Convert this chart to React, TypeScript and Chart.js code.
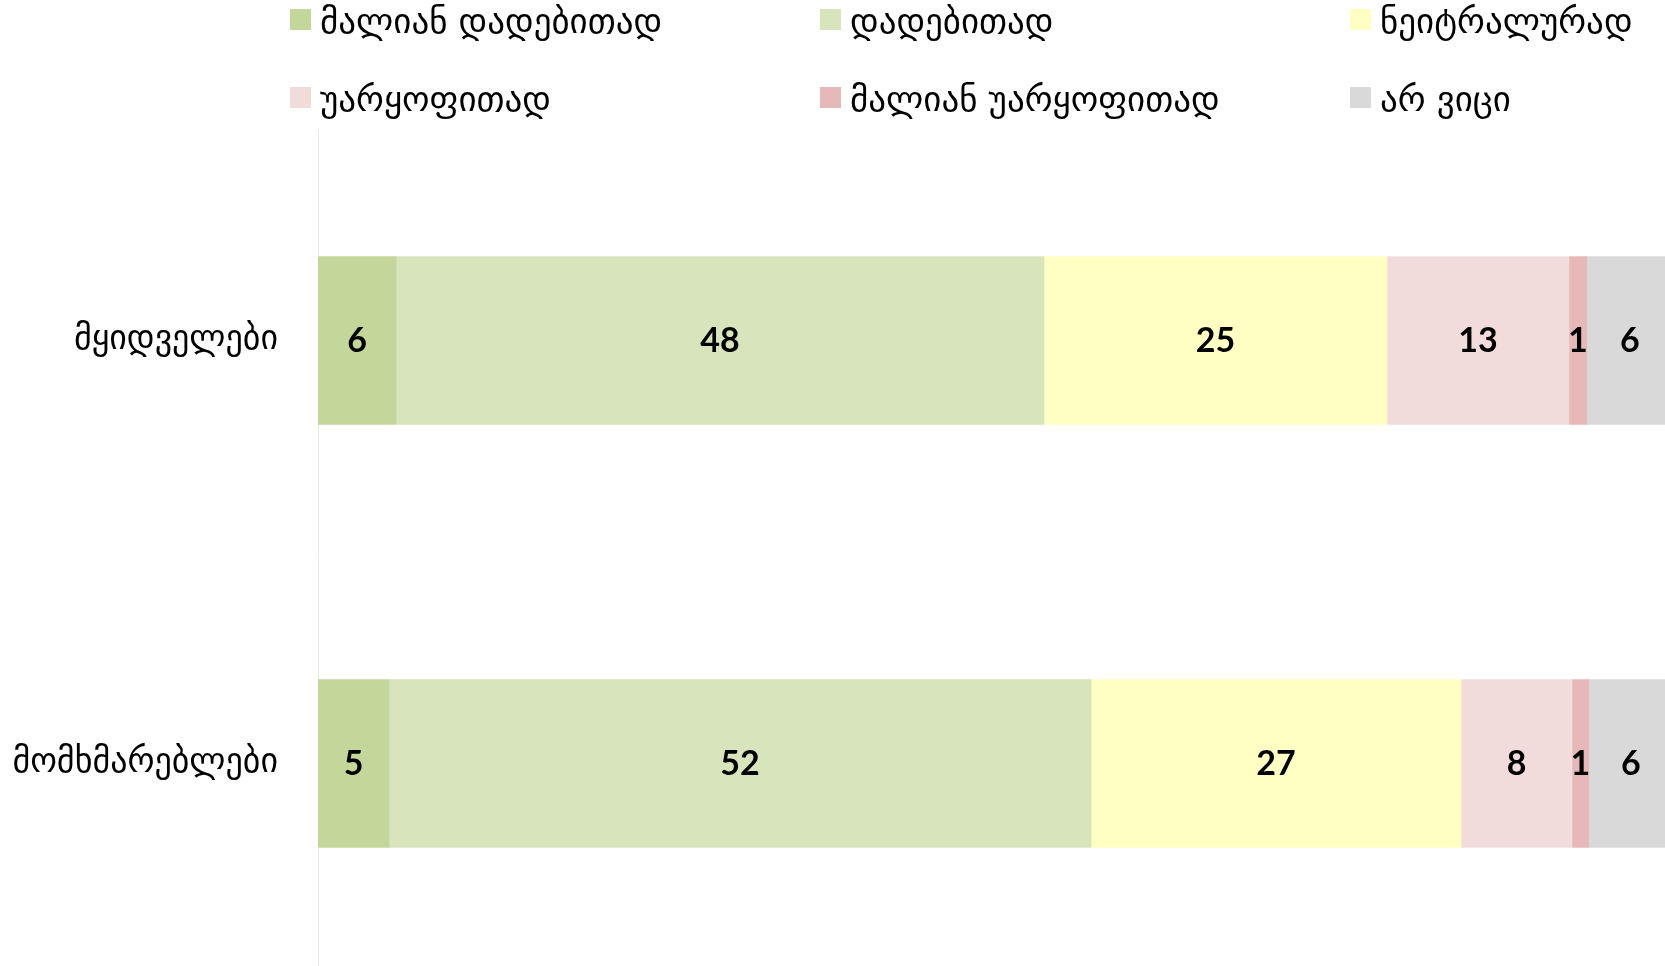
import React, { useEffect, useRef } from "react";
import { Chart, registerables } from "chart.js";

Chart.register(...registerables);

const categories = ["მყიდველები", "მომხმარებლები"];
const seriesNames = [
  "მალიან დადებითად",
  "დადებითად",
  "ნეიტრალურად",
  "უარყოფითად",
  "მალიან უარყოფითად",
  "არ ვიცი",
];
const veryPositive = [5.76, 5.24];
const positive = [47.82, 51.81];
const neutral = [25.31, 27.31];
const negative = [13.43, 8.19];
const veryNegative = [1.31, 1.23];
const dontKnow = [6.37, 6.22];
const seriesColors = ["#c4d79b", "#d8e4bc", "#ffffc4", "#f2dcdb", "#e6b9b8", "#d9d9d9"];

const GEO_FONT = "'DejaVu Sans', 'Noto Sans', sans-serif";

const labelPlugin = {
  id: "segLabels",
  afterDatasetsDraw(chart: any) {
    const ctx = chart.ctx;
    ctx.save();
    ctx.font = "bold 34px Lato, 'Open Sans', sans-serif";
    ctx.fillStyle = "#000";
    ctx.textAlign = "center";
    ctx.textBaseline = "middle";
    chart.data.datasets.forEach((ds: any, di: number) => {
      const meta = chart.getDatasetMeta(di);
      meta.data.forEach((el: any, i: number) => {
        const v = ds.data[i];
        const cx = (el.x + el.base) / 2;
        ctx.fillText(String(Math.round(v)), cx, el.y + 1);
      });
    });
    ctx.restore();
  },
};

export default function App() {
  const ref = useRef<HTMLCanvasElement>(null);
  useEffect(() => {
    document.body.style.margin = "0";
    const values = [veryPositive, positive, neutral, negative, veryNegative, dontKnow];
    const chart = new Chart(ref.current as HTMLCanvasElement, {
      type: "bar",
      data: {
        labels: categories,
        datasets: seriesNames.map((name, i) => ({
          label: name,
          data: values[i],
          backgroundColor: seriesColors[i],
          borderWidth: 0,
          barThickness: 168,
        })),
      },
      options: {
        indexAxis: "y",
        responsive: false,
        animation: false,
        devicePixelRatio: 1,
        layout: { padding: { top: 129, left: 0, right: 0, bottom: 0 } },
        plugins: { legend: { display: false }, tooltip: { enabled: false } },
        scales: {
          x: { stacked: true, min: 0, max: 100, display: false },
          y: {
            stacked: true,
            grid: { display: false, drawTicks: false },
            border: { display: true, color: "#ebebeb", width: 1 },
            ticks: {
              padding: 40,
              color: "#000",
              font: { family: GEO_FONT, size: 34 },
            },
            afterFit: (scale: any) => {
              scale.width = 318;
              scale.paddingTop = 0;
              scale.paddingBottom = 0;
            },
          },
        },
      },
      plugins: [labelPlugin],
    });
    return () => chart.destroy();
  }, []);

  return (
    <div style={{ position: "absolute", left: 0, top: 0, width: 1665, height: 966, overflow: "hidden", background: "#fff" }}>
      <canvas ref={ref} width={1673} height={975} style={{ position: "absolute", left: 0, top: 0 }} />
      {seriesNames.map((name, i) => {
        const col = i % 3;
        const row = Math.floor(i / 3);
        return (
          <div
            key={name}
            style={{
              position: "absolute",
              left: 290 + col * 530,
              top: 9 + row * 78,
              height: 21,
              display: "flex",
              alignItems: "center",
              whiteSpace: "nowrap",
            }}
          >
            <span style={{ display: "inline-block", width: 21, height: 21, background: seriesColors[i], flex: "none" }} />
            <span style={{ marginLeft: 9, fontFamily: GEO_FONT, fontSize: 35, color: "#000", lineHeight: "21px", position: "relative", top: 2 }}>{name}</span>
          </div>
        );
      })}
    </div>
  );
}
